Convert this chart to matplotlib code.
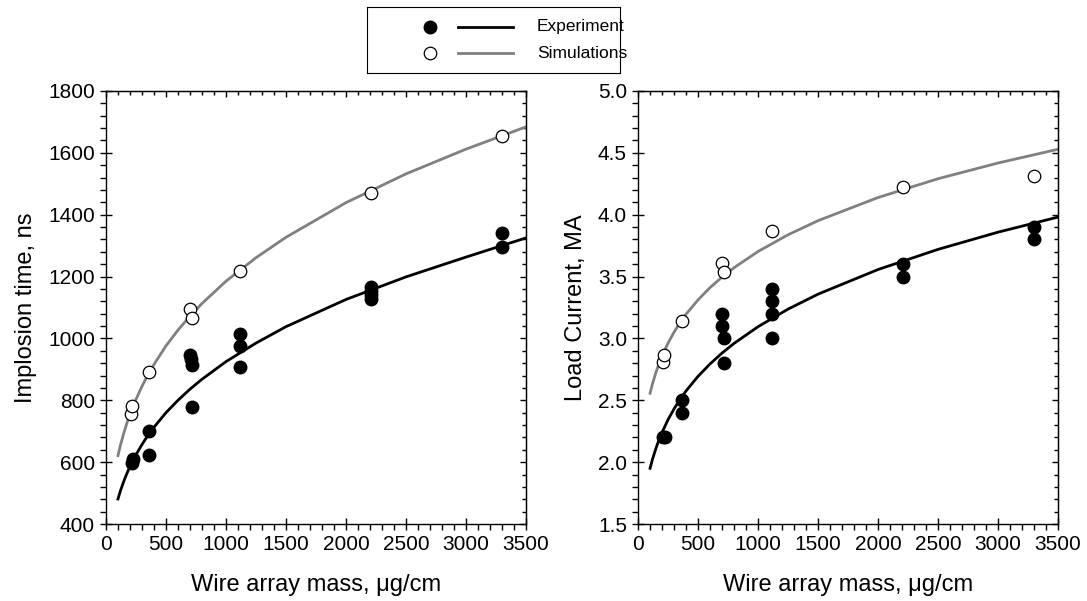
import matplotlib
matplotlib.use("Agg")
import matplotlib.pyplot as plt
from matplotlib.ticker import MultipleLocator, NullFormatter

plt.rcParams['font.family'] = ['Liberation Sans', 'DejaVu Sans']

# implosion time data (ns)
exp_mass_t = [215, 225, 360, 360, 700, 705, 720, 720, 1115, 1115, 1115, 2210, 2210, 2210, 2210, 3300, 3300]
exp_time = [598, 610, 700, 623, 946, 932, 914, 779, 1014, 975, 908, 1167, 1152, 1140, 1128, 1342, 1295]
sim_mass_t = [210, 215, 361, 700, 719, 1117, 2210, 3300]
sim_time = [755, 782, 890, 1095, 1067, 1217, 1470, 1655]

# load current data (MA)
exp_mass_i = [210, 225, 364, 364, 700, 700, 719, 719, 1119, 1119, 1119, 1119, 2211, 2211, 3300, 3300]
exp_curr = [2.20, 2.20, 2.50, 2.40, 3.20, 3.10, 3.00, 2.80, 3.40, 3.30, 3.20, 3.00, 3.60, 3.50, 3.90, 3.80]
sim_mass_i = [210, 217, 364, 697, 719, 1117, 2210, 3300]
sim_curr = [2.81, 2.87, 3.14, 3.61, 3.54, 3.87, 4.22, 4.31]

# fit curves
fit_mass = [100, 120, 150, 175, 200, 250, 300, 350, 400, 500, 600, 700, 800, 1000, 1250, 1500, 2000, 2500, 3000, 3500]
fit_exp_time = [481, 507, 540, 564, 586, 624, 657, 687, 713, 760, 800, 836, 868, 925, 985, 1038, 1126, 1199, 1263, 1325]
fit_sim_time = [621, 654, 696, 727, 754, 803, 845, 883, 916, 976, 1027, 1072, 1113, 1185, 1261, 1327, 1439, 1532, 1612, 1684]
fit_exp_curr = [1.950, 2.023, 2.115, 2.182, 2.241, 2.344, 2.431, 2.507, 2.576, 2.694, 2.794, 2.882, 2.960, 3.095,
                3.237, 3.358, 3.557, 3.720, 3.859, 3.981]
fit_sim_curr = [2.557, 2.633, 2.729, 2.798, 2.858, 2.963, 3.051, 3.128, 3.196, 3.312, 3.411, 3.496, 3.572, 3.703,
                3.838, 3.952, 4.139, 4.291, 4.418, 4.529]

GRAY = '#808080'

fig = plt.figure(figsize=(10.87, 6.01), dpi=100)
ax1 = fig.add_axes([0.0975, 0.1281, 0.3864, 0.7205])
ax2 = fig.add_axes([0.587, 0.1281, 0.3864, 0.7205])


def style_axis(ax, ylim, ymaj, ymin):
    ax.set_xlim(0, 3500)
    ax.set_ylim(*ylim)
    ax.xaxis.set_major_locator(MultipleLocator(500))
    ax.xaxis.set_minor_locator(MultipleLocator(100))
    ax.yaxis.set_major_locator(MultipleLocator(ymaj))
    ax.yaxis.set_minor_locator(MultipleLocator(ymin))
    ax.tick_params(which='major', direction='inout', length=9, width=1, labelsize=15)
    ax.tick_params(which='minor', direction='out', length=4, width=1)
    for s in ax.spines.values():
        s.set_linewidth(1)
    # inward ticks on top/right
    top = ax.secondary_xaxis('top')
    top.xaxis.set_major_locator(MultipleLocator(500))
    top.xaxis.set_minor_locator(MultipleLocator(100))
    top.xaxis.set_major_formatter(NullFormatter())
    top.tick_params(which='major', direction='in', length=4, width=1)
    top.tick_params(which='minor', direction='in', length=3, width=1)
    right = ax.secondary_yaxis('right')
    right.yaxis.set_major_locator(MultipleLocator(ymaj))
    right.yaxis.set_minor_locator(MultipleLocator(ymin))
    right.yaxis.set_major_formatter(NullFormatter())
    right.tick_params(which='major', direction='in', length=4, width=1)
    right.tick_params(which='minor', direction='in', length=3, width=1)
    ax.set_xlabel('Wire array mass, μg/cm', fontsize=17, labelpad=14)


# left panel
ax1.plot(fit_mass, fit_sim_time, color=GRAY, lw=2)
ax1.plot(fit_mass, fit_exp_time, color='black', lw=2)
ax1.plot(sim_mass_t, sim_time, 'o', mfc='white', mec='black', ms=9, mew=0.9)
ax1.plot(exp_mass_t, exp_time, 'o', color='black', ms=9)
style_axis(ax1, (400, 1800), 200, 40)
ax1.set_ylabel('Implosion time, ns', fontsize=17, labelpad=8)

# right panel
ax2.plot(fit_mass, fit_sim_curr, color=GRAY, lw=2)
ax2.plot(fit_mass, fit_exp_curr, color='black', lw=2)
ax2.plot(sim_mass_i, sim_curr, 'o', mfc='white', mec='black', ms=9, mew=0.9)
ax2.plot(exp_mass_i, exp_curr, 'o', color='black', ms=9)
style_axis(ax2, (1.5, 5.0), 0.5, 0.1)
ax2.yaxis.set_major_formatter(plt.FormatStrFormatter('%.1f'))
ax2.set_ylabel('Load Current, MA', fontsize=17, labelpad=8)

# legend box
leg = fig.add_axes([0.3376, 0.8785, 0.2328, 0.1098])
leg.set_xlim(0, 1)
leg.set_ylim(0, 1)
leg.set_xticks([])
leg.set_yticks([])
leg.plot([0.249], [0.70], 'o', color='black', ms=9)
leg.plot([0.36, 0.577], [0.70, 0.70], color='black', lw=2)
leg.text(0.672, 0.70, 'Experiment', va='center', fontsize=12.5)
leg.plot([0.249], [0.30], 'o', mfc='white', mec='black', ms=9, mew=0.9)
leg.plot([0.36, 0.577], [0.30, 0.30], color=GRAY, lw=2)
leg.text(0.672, 0.30, 'Simulations', va='center', fontsize=12.5)

fig.savefig('out.png', dpi=100)
